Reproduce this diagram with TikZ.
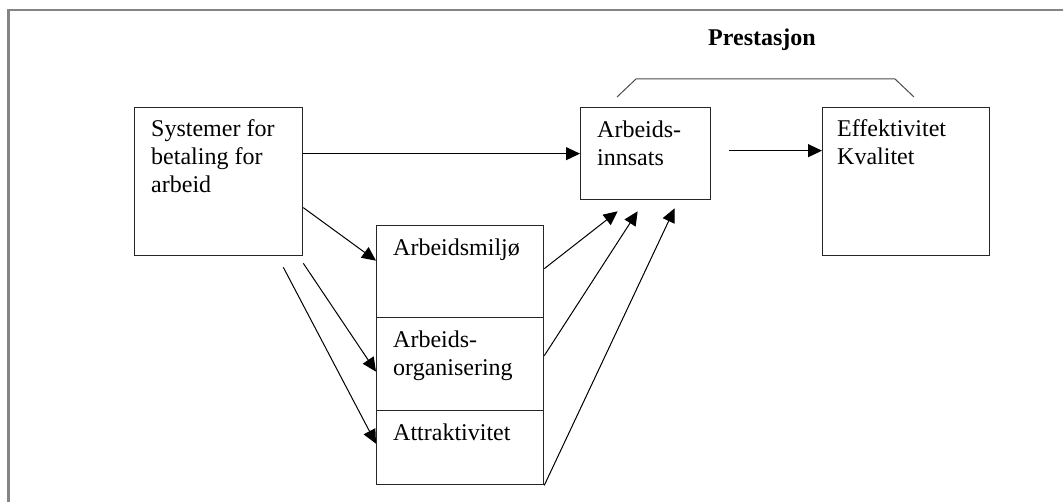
\documentclass[tikz,border=0pt]{standalone}
\usepackage{fontspec}
\setmainfont{Liberation Serif}
\usetikzlibrary{arrows.meta}
\begin{document}
\begin{tikzpicture}[x=1pt,y=-1pt,
  box/.style={draw=black!85, line width=1.3pt, inner sep=0pt, anchor=north west},
  txt/.style={inner sep=0pt, anchor=base west, align=left, font=\fontsize{24}{28}\selectfont},
  arr/.style={draw=black, line width=1pt, -{Triangle[length=14pt,width=13pt]}},
  frame/.style={draw=black!48, line width=2.5pt}]
\useasboundingbox (0,0) rectangle (1063,502);
\draw[frame] (8.5,502) -- (8.5,10) -- (1063,10);
% boxes
\node[box, minimum width=168pt, minimum height=148pt] (S) at (134,107) {};
\node[box, minimum width=130pt, minimum height=92pt] (A) at (580,107) {};
\node[box, minimum width=167pt, minimum height=148pt] (E) at (822,107) {};
\node[box, minimum width=167pt, minimum height=92pt] (M1) at (376,225) {};
\node[box, minimum width=167pt, minimum height=93pt] (M2) at (376,317) {};
\node[box, minimum width=167pt, minimum height=74pt] (M3) at (376,410) {};
% texts
\node[txt] (St) at (151,137) {Systemer for};
\node[txt] (St2) at (151,165) {betaling for};
\node[txt] (St3) at (151,193) {arbeid};
\node[txt] (At) at (597,138) {Arbeids-};
\node[txt] (At2) at (597,166) {innsats};
\node[txt] (Et) at (837,137) {Effektivitet};
\node[txt] (Et2) at (837,165) {Kvalitet};
\node[txt] (M1t) at (393,256) {Arbeidsmiljø};
\node[txt] (M2t) at (393,348) {Arbeids-};
\node[txt] (M2t2) at (393,376) {organisering};
\node[txt] (M3t) at (393,440) {Attraktivitet};
\node[inner sep=0pt, anchor=base, font=\fontsize{24}{28}\selectfont\bfseries] (P) at (762,46) {Prestasjon};
% bracket
\draw[black!70, line width=1pt] ([xshift=37pt,yshift=10pt]A.north west) -- ([xshift=56pt,yshift=28pt]A.north west)
  -- ([xshift=73pt,yshift=28pt]E.north west) -- ([xshift=92pt,yshift=10pt]E.north west);
% arrows
\draw[arr] (S.east |- A.west) -- (A.west);
\draw[arr] ([xshift=18pt,yshift=3pt]A.east) -- ([yshift=3pt]E.west |- A.east);
\draw[arr] ([yshift=-26pt]S.east) -- ([yshift=11pt]M1.west);
\draw[arr] ([yshift=-7pt]S.south east) -- ([yshift=-7.5pt]M2.west);
\draw[arr] ([xshift=-20pt,yshift=-11pt]S.south east) -- ([yshift=4pt]M3.west);
\draw[arr] ([yshift=3pt]M1.east) -- ([xshift=-28pt,yshift=-11pt]A.south);
\draw[arr] ([yshift=8.5pt]M2.east) -- ([xshift=-8pt,yshift=-11pt]A.south);
\draw[arr] (M3.south east) -- ([xshift=29pt,yshift=-8pt]A.south);
\end{tikzpicture}
\end{document}
